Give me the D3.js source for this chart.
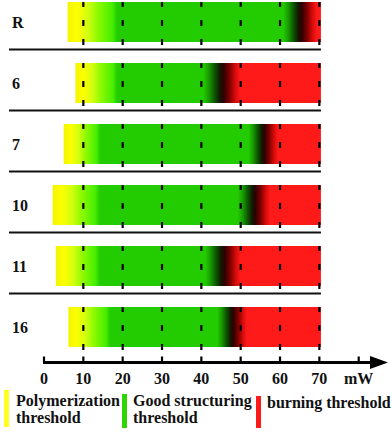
<!DOCTYPE html>
<html><head><meta charset="utf-8">
<script src="https://cdn.jsdelivr.net/npm/d3@7"></script>
<style>body{margin:0;background:#fff}svg{display:block}</style>
</head><body>
<svg id="c" width="392" height="432"></svg>
<script>
// ---- data ----
const rows = ["R", "6", "7", "10", "11", "16"];
const barStart  = [6.0, 8.0, 5.0, 2.2, 3.0, 6.2];     // mW, polymerization begins
const greenFull = [18.6, 18.6, 14.3, 14.2, 14.2, 16.8]; // mW, good structuring fully reached
const burnStart = [60.8, 40.5, 52.0, 49.3, 41.0, 44.0]; // mW, burning begins
const redFull   = [69.4, 49.9, 59.5, 57.5, 50.0, 51.6]; // mW, fully burnt
const barEnd    = [70.4, 70.4, 70.4, 70.4, 70.4, 70.4];
const gridValues = [10, 20, 30, 40, 50, 60, 70];
const tickValues = [0, 10, 20, 30, 40, 50, 60, 70, 80];
const tickLabels = ["0", "10", "20", "30", "40", "50", "60", "70", "mW"];
const legendLabels = [["Polymerization", "threshold"], ["Good structuring", "threshold"], ["burning threshold"]];
const legendColors = ["#ffff22", "#2ed600", "#ff1a1a"];

// ---- drawing ----
const FONT = "Liberation Serif";
const svg = d3.select("#c");
const label = sel => sel.attr("font-family", FONT).attr("font-weight", "bold")
  .style("font-family", "'Liberation Serif', serif").style("font-weight", "bold")
  .attr("font-size", 16).style("font-size", "16px").attr("fill", "#111");
const x = d3.scaleLinear().domain([0, 80]).range([44, 358.7]);
const y = d3.scaleBand().domain(rows).range([2, 368]).paddingInner(0).paddingOuter(0);
const barH = 40;
const defs = svg.append("defs");

rows.forEach((r, i) => {
  const g = defs.append("linearGradient").attr("id", "g" + i)
    .attr("gradientUnits", "userSpaceOnUse")
    .attr("x1", x(barStart[i])).attr("x2", x(barEnd[i])).attr("y1", 0).attr("y2", 0);
  const x0 = x(barStart[i]), x1 = x(barEnd[i]);
  const off = v => Math.max(0, Math.min(1, (x(v) - x0) / (x1 - x0)));
  const ys = barStart[i], yg = greenFull[i], bs = burnStart[i], rf = redFull[i];
  const stops = [
    [ys, "#f4f400"],
    [ys + 0.2 * (yg - ys), "#fcff00"],
    [ys + 0.4 * (yg - ys), "#d4ff10"],
    [ys + 0.6 * (yg - ys), "#90fa00"],
    [ys + 0.9 * (yg - ys), "#48ee00"],
    [yg, "#22cc00"],
    [bs, "#22cc00"],
    [bs + 0.15 * (rf - bs), "#189a00"],
    [bs + 0.3 * (rf - bs), "#0c5800"],
    [bs + 0.45 * (rf - bs), "#121800"],
    [bs + 0.55 * (rf - bs), "#300000"],
    [bs + 0.7 * (rf - bs), "#7a0000"],
    [bs + 0.86 * (rf - bs), "#d40a0a"],
    [rf, "#ff1a1a"],
    [barEnd[i], "#ff1a1a"]
  ];
  stops.forEach(s => g.append("stop").attr("offset", off(s[0])).attr("stop-color", s[1]));
});

// bars
svg.append("g").selectAll("rect").data(rows).join("rect")
  .attr("x", (d, i) => x(barStart[i]))
  .attr("width", (d, i) => x(barEnd[i]) - x(barStart[i]))
  .attr("y", d => y(d))
  .attr("height", barH)
  .attr("fill", (d, i) => `url(#g${i})`);

// dashed grid per row
rows.forEach(r => {
  svg.append("g").selectAll("line").data(gridValues).join("line")
    .attr("x1", d => x(d)).attr("x2", d => x(d))
    .attr("y1", y(r)).attr("y2", y(r) + 43)
    .attr("stroke", "#000").attr("stroke-width", 2.2)
    .attr("stroke-dasharray", "5,13,6,13,6");
});

// row labels
svg.append("g").selectAll("text").data(rows).join("text")
  .attr("x", 12).attr("y", d => y(d) + 26)
  .call(label).text(d => d);

// separators
svg.append("g").selectAll("line").data(rows.slice(0, -1)).join("line")
  .attr("x1", 9).attr("x2", x(barEnd[0]))
  .attr("y1", d => y(d) + 47.5).attr("y2", d => y(d) + 47.5)
  .attr("stroke", "#111").attr("stroke-width", 2.2);

// axis
const ay = 362.5;
svg.append("line").attr("x1", x(0) - 1).attr("x2", 376).attr("y1", ay).attr("y2", ay)
  .attr("stroke", "#000").attr("stroke-width", 3);
svg.append("path").attr("d", `M370,${ay - 6.5}L388,${ay}L370,${ay + 6.5}Z`).attr("fill", "#000");
svg.append("g").selectAll("line").data(tickValues).join("line")
  .attr("x1", d => x(d)).attr("x2", d => x(d))
  .attr("y1", ay - 6).attr("y2", ay)
  .attr("stroke", "#000").attr("stroke-width", 2.2);
svg.append("g").selectAll("text").data(tickValues).join("text")
  .attr("x", d => x(d)).attr("y", 383.5).attr("text-anchor", "middle")
  .call(label).text((d, i) => tickLabels[i]);

// legend
const legX = [4, 122, 256], legTextX = [16, 133, 267];
const legY0 = [390, 394, 396], legY1 = [427, 428, 428];
const legBase = [406, 406, 408];
legendLabels.forEach((lines, i) => {
  svg.append("rect").attr("x", legX[i]).attr("y", legY0[i]).attr("width", 5)
    .attr("height", legY1[i] - legY0[i]).attr("fill", legendColors[i]);
  const t = svg.append("text").attr("x", legTextX[i]).attr("y", legBase[i]).call(label);
  lines.forEach((l, j) => t.append("tspan").attr("x", legTextX[i]).attr("dy", j ? 17 : 0).text(l));
});
</script>
</body></html>
